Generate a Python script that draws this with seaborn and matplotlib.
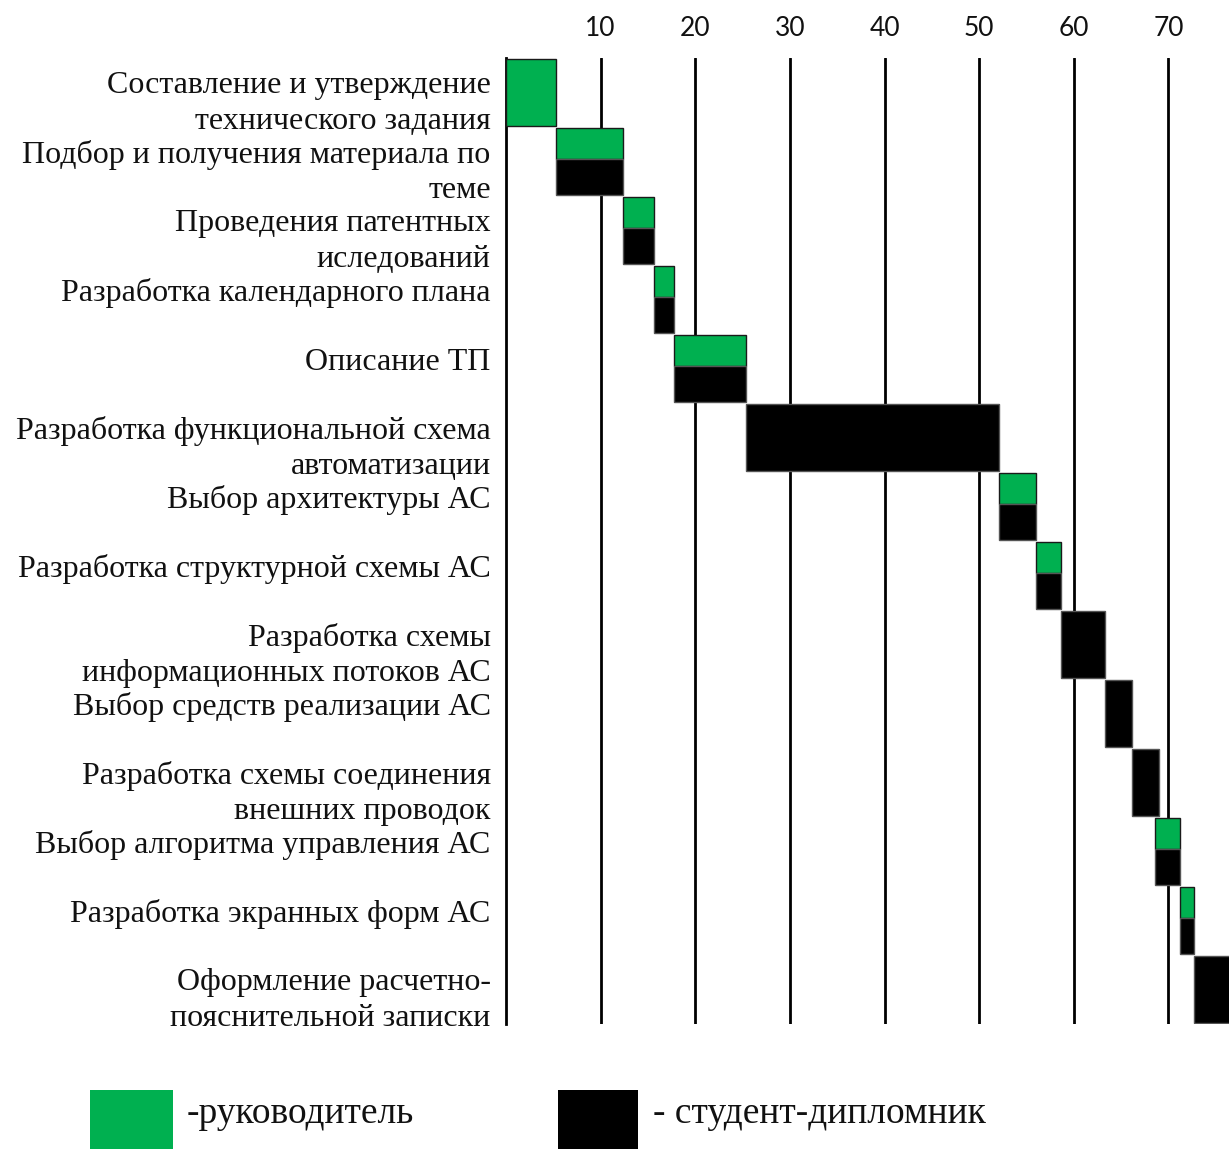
import matplotlib
matplotlib.use('Agg')
import matplotlib.pyplot as plt
import matplotlib.transforms as mtransforms
from matplotlib.patches import Rectangle
import seaborn as sns

# Задачи (сверху вниз)
tasks = [
    'Составление и утверждение\nтехнического задания',
    'Подбор и получения материала по\nтеме',
    'Проведения патентных\nиследований',
    'Разработка календарного плана',
    'Описание ТП',
    'Разработка функциональной схема\nавтоматизации',
    'Выбор архитектуры АС',
    'Разработка структурной схемы АС',
    'Разработка схемы\nинформационных потоков АС',
    'Выбор средств реализации АС',
    'Разработка схемы соединения\nвнешних проводок',
    'Выбор алгоритма управления АС',
    'Разработка экранных форм АС',
    'Оформление расчетно-\nпояснительной записки',
]
start = [0, 5.3, 12.4, 15.6, 17.8, 25.4, 52.1, 56.0, 58.7, 63.3, 66.1, 68.6, 71.2, 72.7]
end = [5.3, 12.4, 15.6, 17.8, 25.4, 52.1, 56.0, 58.7, 63.3, 66.1, 69.0, 71.2, 72.7, 80.0]
# кто участвует
leader = [1, 1, 1, 1, 1, 0, 1, 1, 0, 0, 0, 1, 1, 0]
student = [0, 1, 1, 1, 1, 1, 1, 1, 1, 1, 1, 1, 1, 1]

x_ticks = [10, 20, 30, 40, 50, 60, 70]
legend_labels = ['-руководитель', '- студент-дипломник']

GREEN = '#00B050'
BLACK = '#000000'

sns.set_theme(style='white')
plt.rcParams['font.family'] = ['Liberation Serif', 'DejaVu Serif']

W, H = 1229, 1150
fig = plt.figure(figsize=(W / 100, H / 100), dpi=100)
ax = fig.add_axes([506 / W, 1 - 1024 / H, 1 - 506 / W, (1024 - 58) / H])

full_h = 0.96
green_h = 0.44
for i in range(len(tasks)):
    width = end[i] - start[i]
    top = i - full_h / 2
    if leader[i] and student[i]:
        ax.barh(top, width, left=start[i], height=green_h, align='edge',
                color=GREEN, edgecolor='#1a1a1a', linewidth=1, zorder=3)
        ax.barh(top + green_h, width, left=start[i], height=full_h - green_h, align='edge',
                color=BLACK, edgecolor='#555555', linewidth=1, zorder=3)
    elif leader[i]:
        ax.barh(top, width, left=start[i], height=full_h, align='edge',
                color=GREEN, edgecolor='#1a1a1a', linewidth=1, zorder=3)
    else:
        ax.barh(top, width, left=start[i], height=full_h, align='edge',
                color=BLACK, edgecolor='#555555', linewidth=1, zorder=3)

ax.set_xlim(0, 76.4)
ax.set_ylim(len(tasks) - 0.5, -0.5)

ax.xaxis.tick_top()
ax.set_xticks(x_ticks)
ax.set_xticklabels([str(t) for t in x_ticks], fontfamily='Lato', fontsize=19, color='#111111')
ax.tick_params(axis='x', length=0, pad=12)
ax.grid(axis='x', color='black', linewidth=2, zorder=0)
ax.grid(axis='y', visible=False)
ax.set_axisbelow(True)

ax.set_yticks(range(len(tasks)))
ax.set_yticklabels(tasks, fontsize=23, ha='right', color='#111111', linespacing=1.3)
ax.tick_params(axis='y', length=0, pad=11)

# небольшой сдвиг подписей
for lab in ax.get_yticklabels():
    dy = -3 if '\n' in lab.get_text() else 7
    off = mtransforms.ScaledTranslation(0, dy / 72, fig.dpi_scale_trans)
    lab.set_transform(lab.get_transform() + off)

for side in ['top', 'right', 'bottom']:
    ax.spines[side].set_visible(False)
ax.spines['left'].set_color('black')
ax.spines['left'].set_linewidth(2)
ax.spines['left'].set_zorder(1)

# легенда внизу
for (x0, x1, tx), col, txt in zip([(90, 173, 187), (558, 638, 653)], [GREEN, BLACK], legend_labels):
    fig.add_artist(Rectangle((x0 / W, 1 - 1149 / H), (x1 - x0) / W, 59 / H,
                             transform=fig.transFigure, facecolor=col, edgecolor='none'))
    fig.text(tx / W, 1 - 1123 / H, txt, fontsize=27, va='baseline', ha='left', color='#111111')

fig.savefig('out.png', dpi=100)
